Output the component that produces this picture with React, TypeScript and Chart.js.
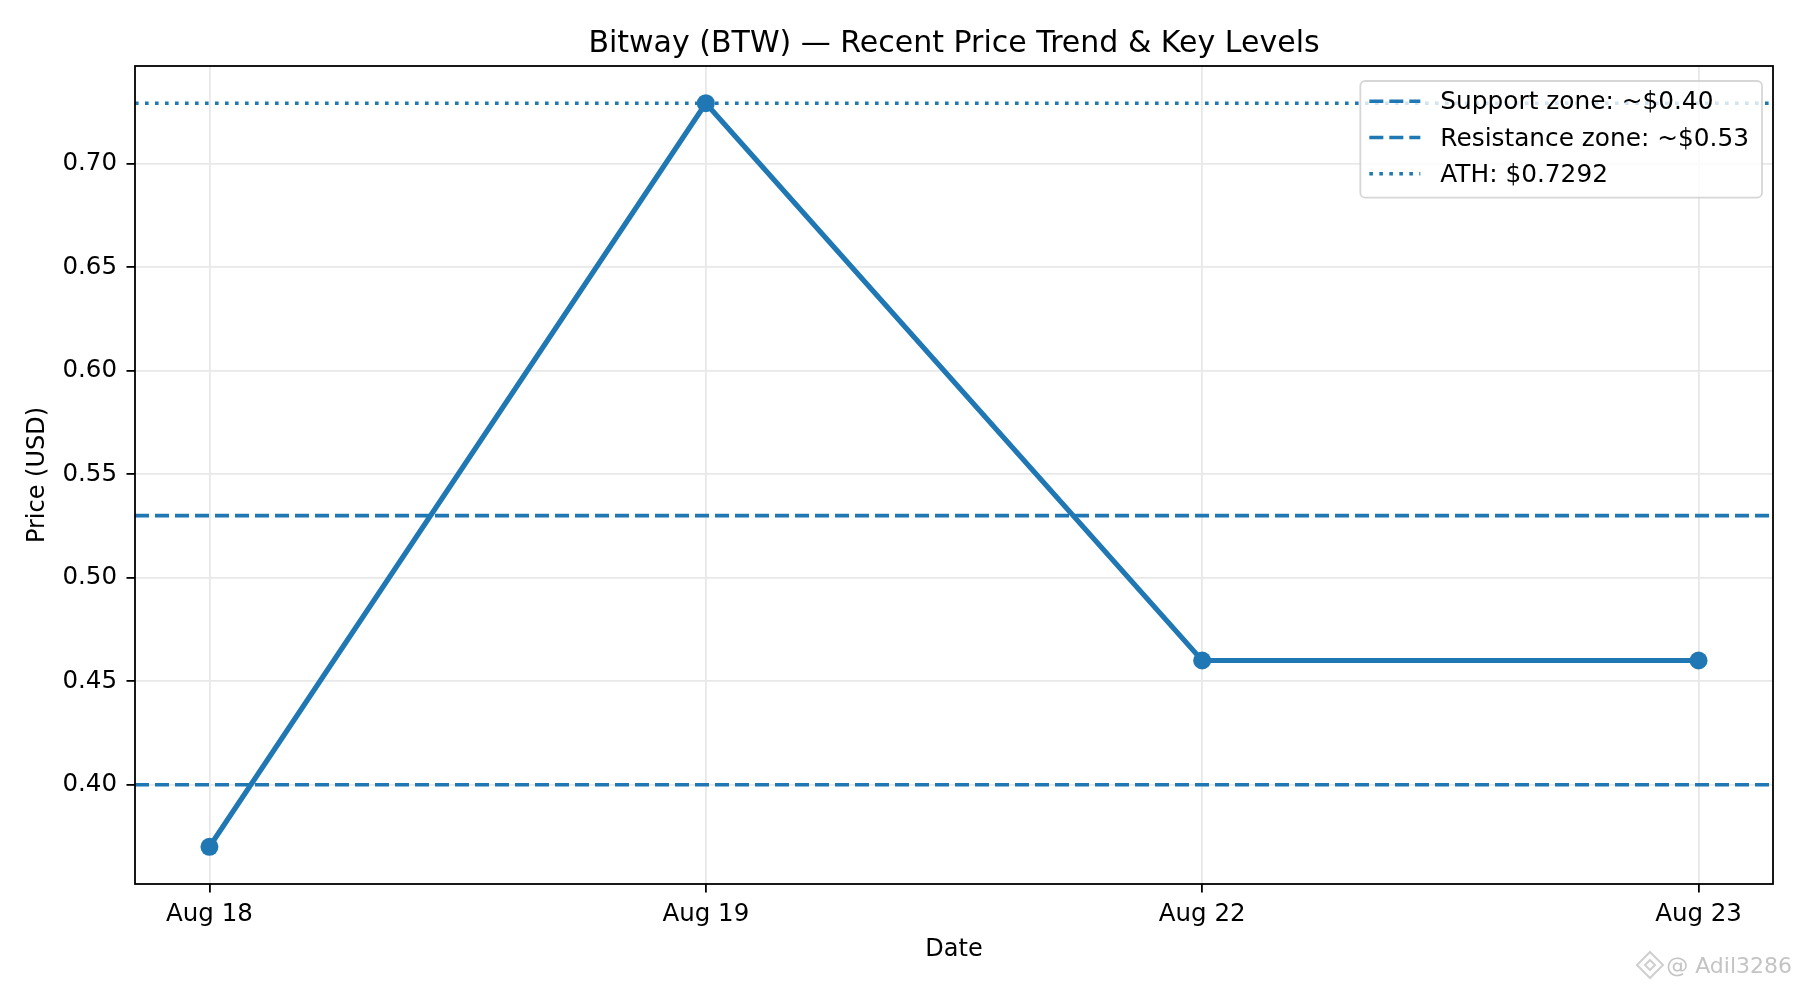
import { useEffect, useRef } from "react";
import { Chart, registerables } from "chart.js";

Chart.register(...registerables);

const TITLE = "Bitway (BTW) — Recent Price Trend & Key Levels";
const DATES = ["Aug 18", "Aug 19", "Aug 22", "Aug 23"];
const PRICE = [0.37, 0.7292, 0.46, 0.46];
const LEVEL_LABELS = ["Support zone: ~$0.40", "Resistance zone: ~$0.53", "ATH: $0.7292"];
const LEVEL_VALUES = [0.4, 0.53, 0.7292];
const LEVEL_KINDS = ["dashed", "dashed", "dotted"];
const Y_TICKS = [0.4, 0.45, 0.5, 0.55, 0.6, 0.65, 0.7];

const BLUE = "#1f77b4";
const FONT = "'DejaVu Sans', sans-serif";
const DASHED = [14, 6];
const DOTTED = [3.6, 6.4];

// matplotlib-style 5% margins
const X_MIN = -0.05 * (DATES.length - 1);
const X_MAX = DATES.length - 1 + 0.05 * (DATES.length - 1);
const allY = [...PRICE, ...LEVEL_VALUES];
const yPad = (Math.max(...allY) - Math.min(...allY)) * 0.05;
const Y_MIN = Math.min(...allY) - yPad;
const Y_MAX = Math.max(...allY) + yPad;

const framePlugin = {
  id: "frame",
  afterDatasetsDraw(chart: any) {
    const { ctx, chartArea: a } = chart;
    ctx.save();
    ctx.strokeStyle = "#000";
    ctx.lineWidth = 1.8;
    ctx.strokeRect(a.left, a.top, a.right - a.left, a.bottom - a.top);
    ctx.restore();
  },
};

const legendPlugin = {
  id: "boxLegend",
  afterDatasetsDraw(chart: any) {
    const { ctx, chartArea: a } = chart;
    ctx.save();
    ctx.font = `24.8px ${FONT}`;
    const textW = Math.max(...LEVEL_LABELS.map((t) => ctx.measureText(t).width));
    const rowGap = 36.2;
    const w = 80 + textW + 13;
    const h = 28.3 + rowGap * (LEVEL_LABELS.length - 1) + 16;
    const right = a.right - 11;
    const left = right - w;
    const top = a.top + 15;

    ctx.beginPath();
    ctx.roundRect(left, top, w, h, 5);
    ctx.fillStyle = "rgba(255,255,255,0.8)";
    ctx.fill();
    ctx.strokeStyle = "rgba(204,204,204,0.8)";
    ctx.lineWidth = 1.8;
    ctx.stroke();

    LEVEL_LABELS.forEach((label, i) => {
      const base = top + 28.3 + rowGap * i;
      ctx.beginPath();
      ctx.setLineDash(LEVEL_KINDS[i] === "dotted" ? DOTTED : DASHED);
      ctx.lineCap = "butt";
      ctx.strokeStyle = BLUE;
      ctx.lineWidth = 3.6;
      ctx.moveTo(left + 9, base - 8);
      ctx.lineTo(left + 60, base - 8);
      ctx.stroke();
      ctx.setLineDash([]);
      ctx.fillStyle = "#000";
      ctx.textAlign = "left";
      ctx.textBaseline = "alphabetic";
      ctx.fillText(label, left + 80, base);
    });
    ctx.restore();
  },
};

const textPlugin = {
  id: "texts",
  afterDraw(chart: any) {
    const { ctx, chartArea: a } = chart;
    const cx = (a.left + a.right) / 2;
    const cy = (a.top + a.bottom) / 2;
    ctx.save();
    ctx.fillStyle = "#000";
    ctx.textBaseline = "alphabetic";
    ctx.textAlign = "center";
    ctx.font = `30px ${FONT}`;
    ctx.fillText(TITLE, cx, 52);

    ctx.font = `24px ${FONT}`;
    ctx.fillText("Date", cx, 956);

    ctx.save();
    ctx.translate(44, cy);
    ctx.rotate(-Math.PI / 2);
    ctx.fillText("Price (USD)", 0, 0);
    ctx.restore();

    // watermark
    ctx.fillStyle = "#c4c4c4";
    ctx.textAlign = "right";
    ctx.font = `22px ${FONT}`;
    ctx.fillText("@ Adil3286", 1792, 973);
    ctx.strokeStyle = "#cfcfcf";
    ctx.lineWidth = 2;
    const lx = 1650;
    const ly = 965;
    ctx.beginPath();
    ctx.moveTo(lx, ly - 13);
    ctx.lineTo(lx + 13, ly);
    ctx.lineTo(lx, ly + 13);
    ctx.lineTo(lx - 13, ly);
    ctx.closePath();
    ctx.stroke();
    ctx.beginPath();
    ctx.moveTo(lx, ly - 5);
    ctx.lineTo(lx + 5, ly);
    ctx.lineTo(lx, ly + 5);
    ctx.lineTo(lx - 5, ly);
    ctx.closePath();
    ctx.stroke();
    ctx.restore();
  },
};

export default function App() {
  const canvasRef = useRef<HTMLCanvasElement>(null);

  useEffect(() => {
    document.body.style.margin = "0";
    if (!canvasRef.current) return;
    const ctx = canvasRef.current.getContext("2d");
    if (!ctx) return;

    const levelSets = LEVEL_VALUES.map((v, i) => ({
      label: LEVEL_LABELS[i],
      data: [
        { x: X_MIN, y: v },
        { x: X_MAX, y: v },
      ],
      borderColor: BLUE,
      borderWidth: 3.6,
      borderDash: LEVEL_KINDS[i] === "dotted" ? DOTTED : DASHED,
      borderCapStyle: "butt" as const,
      pointRadius: 0,
      fill: false,
    }));

    const chart = new Chart(ctx, {
      type: "line",
      data: {
        datasets: [
          ...levelSets,
          {
            label: "Price",
            data: PRICE.map((p, i) => ({ x: i, y: p })),
            borderColor: BLUE,
            backgroundColor: BLUE,
            borderWidth: 5.2,
            pointRadius: 9,
            pointBorderWidth: 0,
            pointBackgroundColor: BLUE,
            tension: 0,
            fill: false,
          },
        ],
      },
      options: {
        animation: false,
        responsive: false,
        devicePixelRatio: 1,
        layout: { padding: { top: 66, right: 27, left: 0, bottom: 0 } },
        plugins: {
          legend: { display: false },
          title: { display: false },
          tooltip: { enabled: false },
        },
        scales: {
          x: {
            type: "linear",
            min: X_MIN,
            max: X_MAX,
            afterBuildTicks: (scale: any) => {
              scale.ticks = DATES.map((_, i) => ({ value: i }));
            },
            afterFit: (scale: any) => {
              scale.height = 106;
            },
            ticks: {
              callback: (v: any) => DATES[Number(v)] ?? "",
              color: "#000",
              font: { family: FONT, size: 24.5 },
              padding: 7,
              maxRotation: 0,
              autoSkip: false,
            },
            grid: {
              color: "#e8e8e8",
              lineWidth: 1.8,
              tickColor: "#000",
              tickWidth: 1.8,
              tickLength: 8.5,
            },
            border: { display: false },
          },
          y: {
            type: "linear",
            min: Y_MIN,
            max: Y_MAX,
            afterBuildTicks: (scale: any) => {
              scale.ticks = Y_TICKS.map((v) => ({ value: v }));
            },
            afterFit: (scale: any) => {
              scale.width = 135;
            },
            ticks: {
              callback: (v: any) => Number(v).toFixed(2),
              color: "#000",
              font: { family: FONT, size: 24.5 },
              padding: 9.5,
            },
            grid: {
              color: "#e8e8e8",
              lineWidth: 1.8,
              tickColor: "#000",
              tickWidth: 1.8,
              tickLength: 8.5,
            },
            border: { display: false },
          },
        },
      },
      plugins: [framePlugin, legendPlugin, textPlugin],
    });
    return () => chart.destroy();
  }, []);

  return (
    <div style={{ width: 1800, height: 990, background: "#fff" }}>
      <canvas ref={canvasRef} width={1800} height={990} />
    </div>
  );
}
